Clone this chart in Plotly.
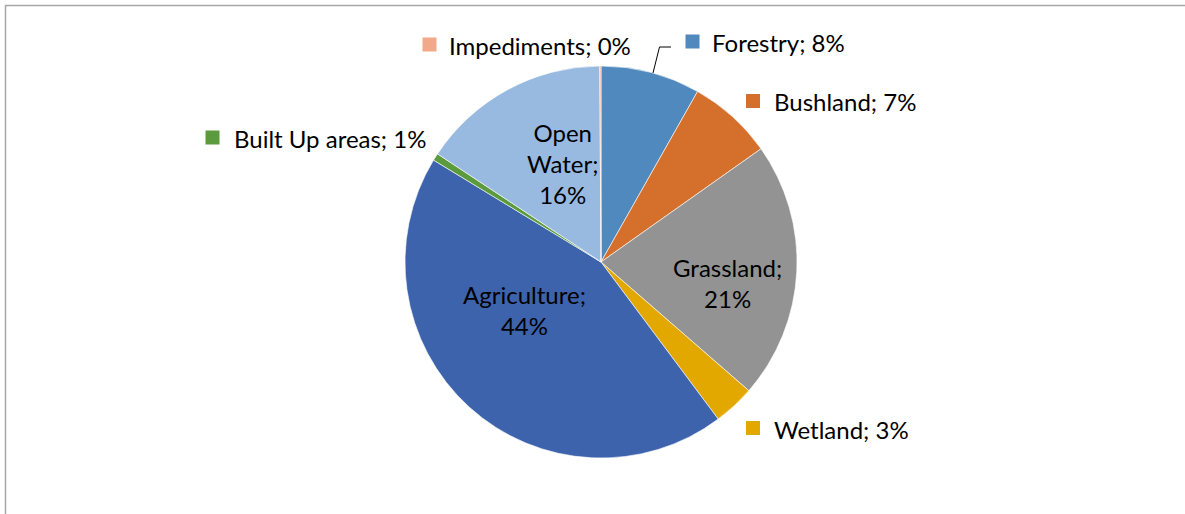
import plotly.graph_objects as go

W, H = 1185, 514

categories = ["Forestry", "Bushland", "Grassland", "Wetland", "Agriculture",
              "Built Up areas", "Open Water", "Impediments"]
shares = [8.2, 7.0, 21.2, 3.4, 43.9, 0.6, 15.6, 0.1]
colors = ["#4F89BD", "#D5702C", "#939393", "#E3A800", "#3D63AC",
          "#5C9B3D", "#98B9E0", "#F2A98A"]

total = sum(shares)
pct = [round(v / total * 100) for v in shares]


def px(x):
    return x / W


def py(y):
    return 1 - y / H


FONT = "Lato"
FS = 24

fig = go.Figure()
fig.add_trace(go.Pie(
    labels=categories, values=shares, sort=False, direction="clockwise",
    rotation=0, marker=dict(colors=colors, line=dict(color="white", width=0.6)),
    textinfo="none", hoverinfo="label+percent", showlegend=False,
    domain=dict(x=[px(405), px(797)], y=[py(458), py(66)]),
))

annotations = []
shapes = []

# inside labels (centre pixel positions)
inside = {
    "Open Water": ("Open<br>Water", 563, 163),
    "Grassland": ("Grassland", 727, 283),
    "Agriculture": ("Agriculture", 524, 310),
}
for name, (disp, cx, cy) in inside.items():
    i = categories.index(name)
    annotations.append(dict(
        x=px(cx), y=py(cy), xref="paper", yref="paper", showarrow=False,
        text=f"{disp};<br>{pct[i]}%", align="center",
        font=dict(family=FONT, size=FS, color="black"),
        xanchor="center", yanchor="middle"))

# outside labels with square markers: (square centre x, y, text start x)
outside = {
    "Impediments": (429.5, 44.5, 450),
    "Forestry": (692.5, 41.5, 713),
    "Bushland": (753, 101, 775),
    "Built Up areas": (212.5, 137.5, 235),
    "Wetland": (753, 428, 775),
}
s = 7
for name, (sx, sy, tx) in outside.items():
    i = categories.index(name)
    shapes.append(dict(type="rect", xref="paper", yref="paper",
                       x0=px(sx - s), x1=px(sx + s), y0=py(sy + s), y1=py(sy - s),
                       fillcolor=colors[i], line=dict(width=0)))
    annotations.append(dict(
        x=px(tx - 3), y=py(sy + 1), xref="paper", yref="paper", showarrow=False,
        text=f"{name}; {pct[i]}%", align="left",
        font=dict(family=FONT, size=FS, color="black"),
        xanchor="left", yanchor="middle"))

# leader line for Forestry
shapes.append(dict(type="path", xref="paper", yref="paper",
                   path=f"M {px(653)} {py(73)} L {px(659.5)} {py(47)} L {px(671)} {py(47)}",
                   line=dict(color="black", width=1)))

# outer border (partially cropped chart area)
shapes.append(dict(type="rect", xref="paper", yref="paper",
                   x0=px(5.5), x1=px(W + 20), y0=py(H + 20), y1=py(5.5),
                   line=dict(color="#A6A6A6", width=1.5), fillcolor="rgba(0,0,0,0)"))

fig.update_layout(
    width=W, height=H, margin=dict(l=0, r=0, t=0, b=0),
    paper_bgcolor="white", plot_bgcolor="white",
    annotations=annotations, shapes=shapes,
)

fig.write_html("out.html", config={"displayModeBar": False},
               post_script="document.body.style.margin='0';document.body.style.overflow='hidden';")
